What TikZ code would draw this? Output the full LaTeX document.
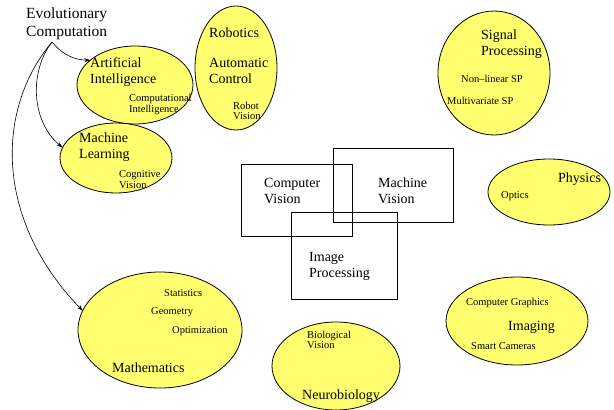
\documentclass[tikz,border=0pt]{standalone}
\usepackage{fontspec}
\setmainfont{Liberation Serif}
\usetikzlibrary{shapes.geometric,arrows.meta}
\definecolor{fieldyellow}{RGB}{255,255,112}
% several lines, left aligned, baseline on the first line
\newcommand\lines[1]{\begin{tabular}[t]{@{}l@{}}#1\end{tabular}}
\begin{document}
\begin{tikzpicture}[x=1pt,y=-1pt,
  field/.style={ellipse,draw,line width=0.8pt,fill=fieldyellow,inner sep=0pt,outer sep=0pt},
  area/.style={draw,line width=0.9pt,inner sep=0pt,outer sep=0pt},
  title/.style={anchor=base west,inner sep=0pt,font=\fontsize{15.5}{18}\selectfont},
  big/.style={anchor=base west,inner sep=0pt,font=\fontsize{14}{16}\selectfont},
  small/.style={anchor=base west,inner sep=0pt,font=\fontsize{10.5}{10.5}\selectfont},
  link/.style={line width=0.6pt,-{Stealth[length=6pt,width=4pt]}}]
\useasboundingbox (0,0) rectangle (614,410);

% fields
\node[field,minimum width=116pt,minimum height=78pt]  (ai)   at (135,85)  {};
\node[field,minimum width=112pt,minimum height=70pt]  (ml)   at (116,158) {};
\node[field,minimum width=82pt, minimum height=124pt] (rob)  at (236,68)  {};
\node[field,minimum width=112pt,minimum height=124pt] (sp)   at (494,73)  {};
\node[field,minimum width=122pt,minimum height=66pt]  (phys) at (549,192) {};
\node[field,minimum width=164pt,minimum height=116pt] (math) at (160,330) {};
\node[field,minimum width=128pt,minimum height=88pt]  (neur) at (336,366) {};
\node[field,minimum width=142pt,minimum height=88pt]  (img)  at (517,321) {};

% overlapping vision areas
\node[area,minimum width=111pt,minimum height=72pt] (cv) at (296.5,200)  {};
\node[area,minimum width=120pt,minimum height=74pt] (mv) at (393,185)    {};
\node[area,minimum width=106pt,minimum height=87pt] (ip) at (344,255.5)  {};

% labels
\node[title] (ec) at (26,18) {\lines{Evolutionary\\Computation}};
\coordinate (ecroot) at (52,42);

\node[big]   (aiT)  at (90,67)   {\lines{Artificial\\Intelligence}};
\node[small] (aiS)  at (129,101.5) {\lines{Computational\\Intelligence}};

\node[big]   (mlT)  at (79,142.5) {\lines{Machine\\Learning}};
\node[small] (mlS)  at (119,177.5) {\lines{Cognitive\\Vision}};

\node[big]   (robT) at (209,37.5) {Robotics};
\node[big]   (robA) at (209,67.5) {\lines{Automatic\\Control}};
\node[small] (robS) at (233,109)  {\lines{Robot\\Vision}};

\node[big]   (spT)  at (481,39)   {\lines{Signal\\Processing}};
\node[small] (spA)  at (461,82.5) {Non--linear SP};
\node[small] (spB)  at (447,104.5) {Multivariate SP};

\node[big]   (physT) at (558,182) {Physics};
\node[small] (physS) at (501,198) {Optics};

\node[big]   (cvT)  at (264,187)  {\lines{Computer\\Vision}};
\node[big]   (mvT)  at (378,187)  {\lines{Machine\\Vision}};
\node[big]   (ipT)  at (309,261)  {\lines{Image\\Processing}};

\node[small] (mathA) at (164,296) {Statistics};
\node[small] (mathB) at (151,314) {Geometry};
\node[small] (mathC) at (172,333) {Optimization};
\node[big]   (mathT) at (112,372) {Mathematics};

\node[small] (neurS) at (307,338) {\lines{Biological\\Vision}};
\node[big]   (neurT) at (302,399) {Neurobiology};

\node[small] (imgA) at (466,305) {Computer Graphics};
\node[big]   (imgT) at (508,330) {Imaging};
\node[small] (imgB) at (471,349) {Smart Cameras};

% links from evolutionary computation
\draw[link] (ecroot) .. controls (60,52) and (72,60) .. (ai.151);
\draw[link] (ecroot) .. controls (30,70) and (30,120) .. (ml.169);
\draw[link] (ecroot) .. controls (-5,110) and (-5,220) .. (math.166);
\end{tikzpicture}
\end{document}
